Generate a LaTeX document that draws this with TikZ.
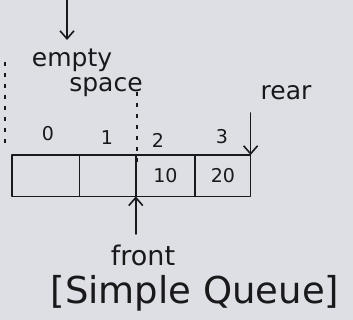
\documentclass[tikz,border=0pt]{standalone}
\usepackage{fontspec}
\setmainfont{DejaVu Sans}
\usetikzlibrary{arrows.meta}
\definecolor{paper}{RGB}{222,223,228}
\definecolor{ink}{RGB}{25,25,28}
\begin{document}
\begin{tikzpicture}[x=1pt,y=-1pt,
  ink line/.style={draw=ink,line width=1.6pt,line cap=round,line join=round},
  pointer/.style={ink line,-{Straight Barb[length=8pt,width=14pt]}},
  guide/.style={draw=ink,line width=1.2pt,dash pattern=on 4pt off 7pt},
  cell/.style={minimum height=41pt,inner sep=0pt,text=ink,font=\fontsize{19}{19}\selectfont},
  hand/.style={text=ink,inner sep=1pt,font=\fontsize{25}{25}\selectfont},
  idx/.style={text=ink,font=\fontsize{19}{19}\selectfont}]
\fill[paper] (0,0) rectangle (353,320);
\useasboundingbox (0,0) rectangle (353,320);

% queue cells
\node[cell,minimum width=67pt,anchor=north west] (c0) at (12,155) {};
\node[cell,minimum width=56pt,anchor=west] (c1) at (c0.east) {};
\node[cell,minimum width=59pt,anchor=west] (c2) at (c1.east) {10};
\node[cell,minimum width=55pt,anchor=west] (c3) at (c2.east) {20};
\draw[ink line] (c0.north west) rectangle (c3.south east);
\draw[ink line] (c0.north east) -- (c0.south east);
\draw[ink line] (c1.north east) -- (c1.south east);
\draw[ink line] (c2.north east) -- (c2.south east);

% indices
\node[idx] (i0) at (48,134) {0};
\node[idx] (i1) at (107,138) {1};
\node[idx] (i2) at (158,140) {2};
\node[idx] (i3) at (222,137) {3};

% empty space marker
\coordinate (topstart) at (67,0);
\node[hand] (empty) at (72,60) {empty};
\node[hand] (space) at (106,87) {space};
\draw[pointer] (topstart) -- (67,40);
\draw[guide] (5,62) -- (5,146);
\draw[guide] (137,92) -- (137,162);

% rear pointer
\node[hand] (rear) at (286,93) {rear};
\coordinate (rearstart) at (c3.north east |- 0,113);
\draw[pointer] (rearstart) -- (c3.north east);

% front pointer
\node[hand,font=\fontsize{27}{27}\selectfont] (front) at (143,255) {front};
\coordinate (frontstart) at (c1.south east |- 0,234);
\draw[pointer] (frontstart) -- (c1.south east);

% caption
\node[text=ink,inner sep=1pt,font=\fontsize{37}{37}\selectfont] (caption) at (195,293) {[Simple Queue]};
\end{tikzpicture}
\end{document}
